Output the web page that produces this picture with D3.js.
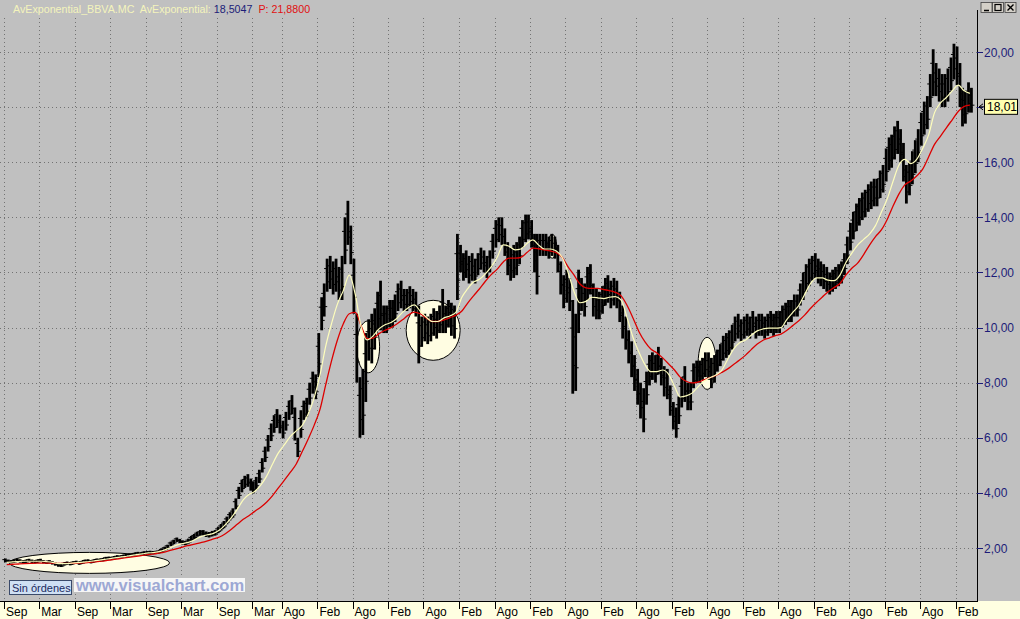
<!DOCTYPE html>
<html><head><meta charset="utf-8">
<script src="https://cdn.jsdelivr.net/npm/d3@7"></script>
<style>html,body{margin:0;padding:0;background:#c0c0c0;overflow:hidden}svg{display:block}</style>
</head><body>
<svg id="c" width="1020" height="619"></svg>
<script>
// ---- data ----
const startYear = 1993, startMonth = 8; // Sep 1993, half-month bars
const barHigh = [
1.62,1.58,1.56,1.58,1.61,1.59,1.56,1.58,1.61,1.58,
1.56,1.59,1.61,1.56,1.54,1.56,1.52,1.48,1.44,1.43,
1.48,1.51,1.49,1.52,1.54,1.51,1.54,1.58,1.59,1.56,
1.59,1.62,1.62,1.64,1.68,1.69,1.68,1.71,1.74,1.73,
1.76,1.78,1.80,1.81,1.84,1.86,1.85,1.88,1.89,1.90,
1.89,1.90,1.92,1.99,2.05,2.12,2.23,2.30,2.38,2.33,
2.28,2.26,2.34,2.44,2.51,2.59,2.65,2.65,2.60,2.58,
2.62,2.65,2.76,2.87,2.98,3.14,3.30,3.44,3.80,4.22,
4.48,4.62,4.68,4.52,4.42,4.58,4.84,5.26,5.68,6.10,
6.52,6.82,7.04,6.84,6.62,6.94,7.35,7.55,7.10,6.00,
7.00,7.35,7.45,8.00,8.40,8.30,9.80,11.1,11.6,12.5,
12.6,12.4,12.5,12.2,12.6,14.0,14.6,13.7,12.5,10.5,
8.2,8.5,9.8,10.3,10.5,10.7,11.3,11.7,10.8,10.8,
11.0,11.0,11.2,11.6,11.7,11.4,11.4,11.5,11.4,11.3,
10.8,10.4,10.5,10.4,10.5,10.7,10.6,10.8,11.4,10.8,
11.0,10.9,10.8,13.4,13.0,12.7,12.8,12.6,12.7,12.5,
12.7,12.9,12.8,12.6,12.8,13.4,13.9,14.0,14.0,13.6,
13.1,12.9,13.0,13.1,13.3,13.9,14.1,14.1,13.9,13.4,
13.4,13.4,13.4,13.4,13.3,13.4,13.3,13.0,12.4,11.9,
12.1,11.8,11.0,10.5,12.1,11.8,11.6,12.2,12.3,11.6,
11.4,11.3,11.5,11.8,11.9,11.7,11.8,11.7,11.3,10.8,
10.4,9.9,9.5,9.0,8.5,8.0,7.8,8.4,9.0,9.1,
9.0,9.3,8.9,8.6,8.5,7.9,7.3,7.1,7.5,8.2,
8.6,8.0,8.0,8.7,8.8,8.8,8.9,9.1,9.1,8.9,
9.0,9.2,9.4,9.7,9.8,9.9,10.1,10.4,10.5,10.3,
10.4,10.5,10.4,10.6,10.4,10.5,10.5,10.4,10.5,10.6,
10.5,10.6,10.6,10.8,10.9,11.0,11.0,11.2,11.2,11.6,
12.0,12.3,12.5,12.6,12.7,12.5,12.4,12.3,12.2,12.0,
12.1,12.2,12.3,12.4,12.7,13.3,13.8,14.2,14.5,14.7,
14.9,15.0,15.2,15.3,15.4,15.4,15.7,15.9,16.5,16.9,
17.0,17.3,17.5,17.2,16.7,15.9,16.0,16.4,16.8,17.2,
17.8,18.2,18.4,19.2,20.1,19.6,19.4,19.2,19.2,19.4,
19.8,20.3,20.2,19.6,18.7,18.6,18.9,18.7];
const barLow = [
1.48,1.46,1.44,1.46,1.49,1.47,1.44,1.46,1.49,1.46,
1.44,1.47,1.49,1.44,1.42,1.44,1.40,1.36,1.32,1.31,
1.36,1.39,1.37,1.40,1.42,1.39,1.42,1.46,1.47,1.44,
1.47,1.50,1.50,1.52,1.56,1.57,1.56,1.59,1.62,1.61,
1.64,1.66,1.68,1.69,1.72,1.74,1.73,1.76,1.77,1.78,
1.77,1.78,1.80,1.85,1.91,1.98,2.07,2.14,2.22,2.17,
2.12,2.10,2.16,2.26,2.33,2.41,2.45,2.45,2.40,2.38,
2.42,2.45,2.54,2.63,2.72,2.86,3.00,3.10,3.40,3.78,
4.02,4.18,4.22,4.08,3.98,4.12,4.36,4.74,5.12,5.50,
5.88,6.18,6.36,6.16,5.98,6.26,6.65,6.85,5.90,5.30,
6.00,6.65,6.75,7.20,7.60,7.40,8.20,9.9,10.4,11.3,
11.4,11.2,11.3,11.0,11.0,12.3,13.0,12.3,10.5,8.0,
6.0,6.1,7.3,8.8,8.7,9.2,9.9,9.9,9.8,9.8,
10.0,10.0,10.2,10.6,10.7,10.6,10.6,10.7,10.6,10.4,
8.7,9.3,9.5,9.4,9.5,9.7,9.6,9.8,9.8,9.8,
10.0,9.7,9.6,11.0,12.0,11.7,11.8,11.6,11.7,11.6,
11.9,12.1,12.0,11.8,12.0,12.5,12.9,13.1,13.0,12.6,
11.9,11.7,11.8,11.9,12.3,12.9,13.1,13.2,12.9,12.0,
11.2,12.6,12.6,12.6,12.5,12.6,12.5,12.0,11.2,10.7,
10.9,10.6,7.6,7.7,9.8,10.6,10.4,11.0,11.2,10.4,
10.3,10.3,10.5,10.8,10.9,10.7,10.8,10.7,10.2,9.6,
9.2,8.7,8.2,7.7,7.2,6.7,6.2,7.2,7.9,8.1,
8.0,8.3,7.9,7.5,7.4,6.8,6.3,6.0,6.5,7.1,
7.3,7.0,7.0,7.8,8.0,8.0,8.1,8.2,8.1,7.8,
8.0,8.4,8.6,8.8,8.9,9.0,9.2,9.5,9.6,9.5,
9.6,9.7,9.6,9.8,9.6,9.7,9.7,9.6,9.7,9.8,
9.7,9.8,9.8,10.0,10.1,10.2,10.2,10.4,10.4,10.8,
11.0,11.3,11.5,11.7,11.8,11.6,11.5,11.4,11.3,11.2,
11.3,11.4,11.5,11.6,11.9,12.3,12.8,13.2,13.5,13.7,
13.9,14.0,14.2,14.3,14.4,14.4,14.7,14.9,15.3,15.7,
15.8,16.1,16.3,16.0,15.3,14.5,14.8,15.2,15.6,16.0,
16.6,17.0,17.2,18.0,18.4,18.4,18.2,18.0,18.0,18.2,
18.6,19.0,18.8,18.0,17.3,17.4,17.8,17.8];
// monthly exponential averages, from Sep 1993
const emaFast = [
1.48,1.50,1.51,1.52,1.52,1.52,1.52,1.50,1.47,1.43,
1.43,1.45,1.47,1.49,1.51,1.54,1.57,1.60,1.63,1.66,
1.69,1.72,1.76,1.79,1.82,1.84,1.88,1.95,2.04,2.12,
2.17,2.22,2.32,2.42,2.48,2.53,2.65,2.85,3.10,3.40,
3.75,3.95,4.05,4.28,4.60,5.05,5.45,5.75,6.05,6.25,
6.45,6.85,7.45,8.30,9.30,10.15,10.85,11.35,11.90,11.20,
10.00,9.55,9.70,9.95,10.10,10.18,10.32,10.55,10.72,10.82,
10.60,10.38,10.22,10.22,10.35,10.42,10.55,11.10,11.40,11.65,
11.75,11.95,12.20,12.55,13.00,12.95,12.82,12.85,13.05,13.18,
13.00,12.85,12.85,12.78,12.55,12.00,11.30,10.90,10.95,11.10,
11.08,11.05,11.10,11.12,11.00,10.35,9.65,9.10,8.65,8.40,
8.40,8.46,8.30,7.85,7.48,7.52,7.62,7.85,8.05,8.18,
8.28,8.45,8.85,9.22,9.45,9.55,9.72,9.88,9.95,9.98,
9.98,10.00,10.30,10.55,10.80,11.20,11.60,11.80,11.80,11.72,
11.70,11.90,12.35,12.70,13.00,13.20,13.40,13.70,14.20,14.70,
15.30,15.90,16.10,15.95,16.10,16.50,17.00,17.80,18.15,18.35,
18.60,18.80,18.60,18.50];
const emaSlow = [
1.40,1.41,1.42,1.43,1.44,1.45,1.45,1.45,1.45,1.44,
1.44,1.44,1.45,1.46,1.48,1.50,1.52,1.55,1.58,1.61,
1.64,1.67,1.70,1.73,1.76,1.79,1.82,1.87,1.93,1.99,
2.05,2.10,2.15,2.20,2.26,2.33,2.40,2.52,2.68,2.86,
3.04,3.18,3.33,3.48,3.66,3.90,4.18,4.46,4.75,5.05,
5.50,5.95,6.45,7.05,7.90,8.80,9.55,10.15,10.50,10.55,
10.05,9.60,9.62,9.78,9.90,10.00,10.12,10.28,10.45,10.56,
10.50,10.35,10.22,10.22,10.28,10.36,10.45,10.60,10.88,11.15,
11.40,11.68,11.92,12.12,12.38,12.52,12.52,12.55,12.72,12.88,
12.86,12.82,12.78,12.72,12.55,12.20,11.90,11.58,11.44,11.42,
11.42,11.38,11.34,11.28,11.15,10.80,10.35,9.85,9.48,9.22,
9.08,8.90,8.68,8.45,8.20,8.05,7.99,8.02,8.10,8.18,
8.26,8.37,8.50,8.66,8.82,9.00,9.20,9.40,9.54,9.62,
9.70,9.76,9.90,10.07,10.25,10.45,10.70,10.92,11.10,11.30,
11.45,11.60,11.90,12.15,12.35,12.65,13.00,13.30,13.55,13.95,
14.40,14.85,15.18,15.32,15.50,15.75,16.20,16.65,16.95,17.25,
17.55,17.85,18.02,18.07];
const xTickLabels = ["Sep","Mar","Sep","Mar","Sep","Mar","Sep","Mar","Ago","Feb","Ago","Feb","Ago","Feb","Ago","Feb","Ago","Feb","Ago","Feb","Ago","Feb","Ago","Feb","Ago","Feb","Ago","Feb"];
const xTickDates = ["1993-09","1994-03","1994-09","1995-03","1995-09","1996-03","1996-09","1997-03","1997-08","1998-02","1998-08","1999-02","1999-08","2000-02","2000-08","2001-02","2001-08","2002-02","2002-08","2003-02","2003-08","2004-02","2004-08","2005-02","2005-08","2006-02","2006-08","2007-02"];
const yTicks = [2,4,6,8,10,12,14,16,18,20];
const lastPrice = 18.01;
const headerParts = [["AvExponential_BBVA.MC  AvExponential: ","#f4f4bc"],["18,5047 ","#1c1c78"],[" P: 21,8800","#e01010"]];
// highlight ellipses: [centerDate, centerValue, rx(px), ry(px)]
const marks = [["1994-11-15",1.46,80,10.5],["1998-10-20",9.3,11.5,26],["1999-09-20",9.9,27,30],["2001-05-25",12.95,4.5,12],["2003-08-01",8.7,9,26]];

// ---- chart ----
const W=1020,H=619, axisX=977, axisY=601, topY=18;
const svg=d3.select("#c");
const parse=d3.timeParse("%Y-%m"), parseD=d3.timeParse("%Y-%m-%d");
const x=d3.scaleTime().domain([new Date(1993,8,1),new Date(2007,1,1)]).range([4,955.7]);
const y=d3.scaleLinear().domain([2,20]).range([548,52]);
const fmt=v=>d3.format(".2f")(v).replace(".",",");
const FONT="Liberation Sans, Arial, sans-serif";

svg.append("rect").attr("width",W).attr("height",H).attr("fill","#c0c0c0");

// gridlines
const grid=svg.append("g").attr("stroke","#737373").attr("stroke-dasharray","1,3").attr("stroke-width",1);
grid.selectAll("line.h").data(yTicks).join("line").attr("x1",0).attr("x2",axisX)
  .attr("y1",d=>Math.round(y(d))+0.5).attr("y2",d=>Math.round(y(d))+0.5);
grid.selectAll("line.v").data(xTickDates).join("line")
  .attr("x1",d=>Math.round(x(parse(d)))+0.5).attr("x2",d=>Math.round(x(parse(d)))+0.5)
  .attr("y1",topY).attr("y2",axisY);

// ellipses
svg.append("g").selectAll("ellipse").data(marks).join("ellipse")
  .attr("cx",d=>x(parseD(d[0]))).attr("cy",d=>y(d[1])).attr("rx",d=>d[2]).attr("ry",d=>d[3])
  .attr("fill","#fffde2").attr("stroke","#000").attr("stroke-width",1);

// bars
const barDate=i=>new Date(startYear,startMonth+Math.floor(i/2),i%2?23:8);
svg.append("g").selectAll("rect").data(barHigh).join("rect")
  .attr("x",(d,i)=>x(barDate(i))-1.4).attr("width",2.8)
  .attr("y",(d,i)=>y(d)).attr("height",(d,i)=>Math.max(2,y(barLow[i])-y(d)))
  .attr("fill","#000");
// open/close ticks (bar texture)
svg.append("g").selectAll("path").data(barHigh).join("path")
  .attr("d",(d,i)=>{const cx=x(barDate(i)), h=y(d), l=y(barLow[i]);
     return `M${cx-3},${h+(l-h)*0.3}h3M${cx},${h+(l-h)*0.7}h3`;})
  .attr("stroke","#000").attr("stroke-width",1).attr("fill","none");

// averages
const emaDate=j=>new Date(startYear,startMonth+j,15);
const line=d3.line().x((d,j)=>x(emaDate(j))).y(d=>y(d)).curve(d3.curveMonotoneX);
svg.append("path").attr("d",line(emaSlow)).attr("fill","none").attr("stroke","#dc0000").attr("stroke-width",1.3);
svg.append("path").attr("d",line(emaFast)).attr("fill","none").attr("stroke","#fdfdbc").attr("stroke-width",1.2);

// header
const ht=svg.append("text").attr("x",13).attr("y",13).attr("font-family",FONT).attr("font-size",10.7).attr("xml:space","preserve");
headerParts.forEach(p=>ht.append("tspan").attr("fill",p[1]).text(p[0]));

// window buttons
const btn=svg.append("g");
[981,992.5,1005].forEach(bx=>{
  btn.append("rect").attr("x",bx).attr("y",2.5).attr("width",11).attr("height",10).attr("fill","#d4d0c8").attr("stroke","#404040").attr("stroke-width",0.8);
});
btn.append("line").attr("x1",984).attr("x2",989).attr("y1",10.5).attr("y2",10.5).attr("stroke","#000").attr("stroke-width",1.5);
btn.append("rect").attr("x",995).attr("y",4.5).attr("width",6).attr("height",6).attr("fill","none").attr("stroke","#000").attr("stroke-width",1.2);
btn.append("path").attr("d","M1007.5,4.5L1013.5,10.5M1013.5,4.5L1007.5,10.5").attr("stroke","#000").attr("stroke-width",1.4);

// right axis
const ly=y(lastPrice);
svg.append("line").attr("x1",axisX+0.5).attr("x2",axisX+0.5).attr("y1",topY-8).attr("y2",axisY).attr("stroke","#000");
const ya=svg.append("g");
ya.selectAll("line").data(yTicks).join("line").attr("x1",axisX).attr("x2",axisX+6)
  .attr("y1",d=>Math.round(y(d))+0.5).attr("y2",d=>Math.round(y(d))+0.5).attr("stroke","#1c1c78");
ya.selectAll("text").data(yTicks.filter(d=>Math.abs(y(d)-ly)>10)).join("text").attr("x",axisX+7).attr("y",d=>y(d)+4.5)
  .attr("font-family",FONT).attr("font-size",12).attr("fill","#1c1c78").text(fmt);

// last price label
svg.append("path").attr("d",`M${axisX+2},${ly} l4,-3 M${axisX+2},${ly} l4,3 M${axisX+2},${ly} h6`).attr("stroke","#000").attr("fill","none");
svg.append("rect").attr("x",984.5).attr("y",ly-7.5).attr("width",33).attr("height",15).attr("fill","#ffffb0").attr("stroke","#000");
svg.append("text").attr("x",987).attr("y",ly+4.5).attr("font-family",FONT).attr("font-size",12).attr("fill","#000").text(fmt(lastPrice));

// bottom axis
svg.append("rect").attr("x",0).attr("y",axisY).attr("width",W).attr("height",H-axisY).attr("fill","#ffffe1");
svg.append("line").attr("x1",0).attr("x2",axisX+1).attr("y1",axisY+0.5).attr("y2",axisY+0.5).attr("stroke","#000");
const xa=svg.append("g");
xa.selectAll("line").data(xTickDates).join("line")
  .attr("x1",d=>Math.round(x(parse(d)))+0.5).attr("x2",d=>Math.round(x(parse(d)))+0.5)
  .attr("y1",axisY).attr("y2",axisY+8).attr("stroke","#000");
xa.selectAll("text").data(xTickDates).join("text").attr("x",d=>x(parse(d))+2).attr("y",616)
  .attr("font-family",FONT).attr("font-size",12).attr("fill","#000")
  .text((d,i)=>xTickLabels[i]);

// watermark & status box
svg.append("rect").attr("x",74).attr("y",578).attr("width",171).attr("height",14).attr("fill","#f6f6f6");
svg.append("text").attr("x",76).attr("y",591).attr("font-family",FONT).attr("font-weight","bold")
  .attr("font-size",16.5).attr("fill","#9da8d4").text("www.visualchart.com");
svg.append("rect").attr("x",9.5).attr("y",580.5).attr("width",62).attr("height",14).attr("fill","#cfe0f4").attr("stroke","#3a4a6a");
svg.append("text").attr("x",12).attr("y",591.5).attr("font-family",FONT)
  .attr("font-size",11).attr("fill","#1a2a60").text("Sin órdenes");
</script>
</body></html>
